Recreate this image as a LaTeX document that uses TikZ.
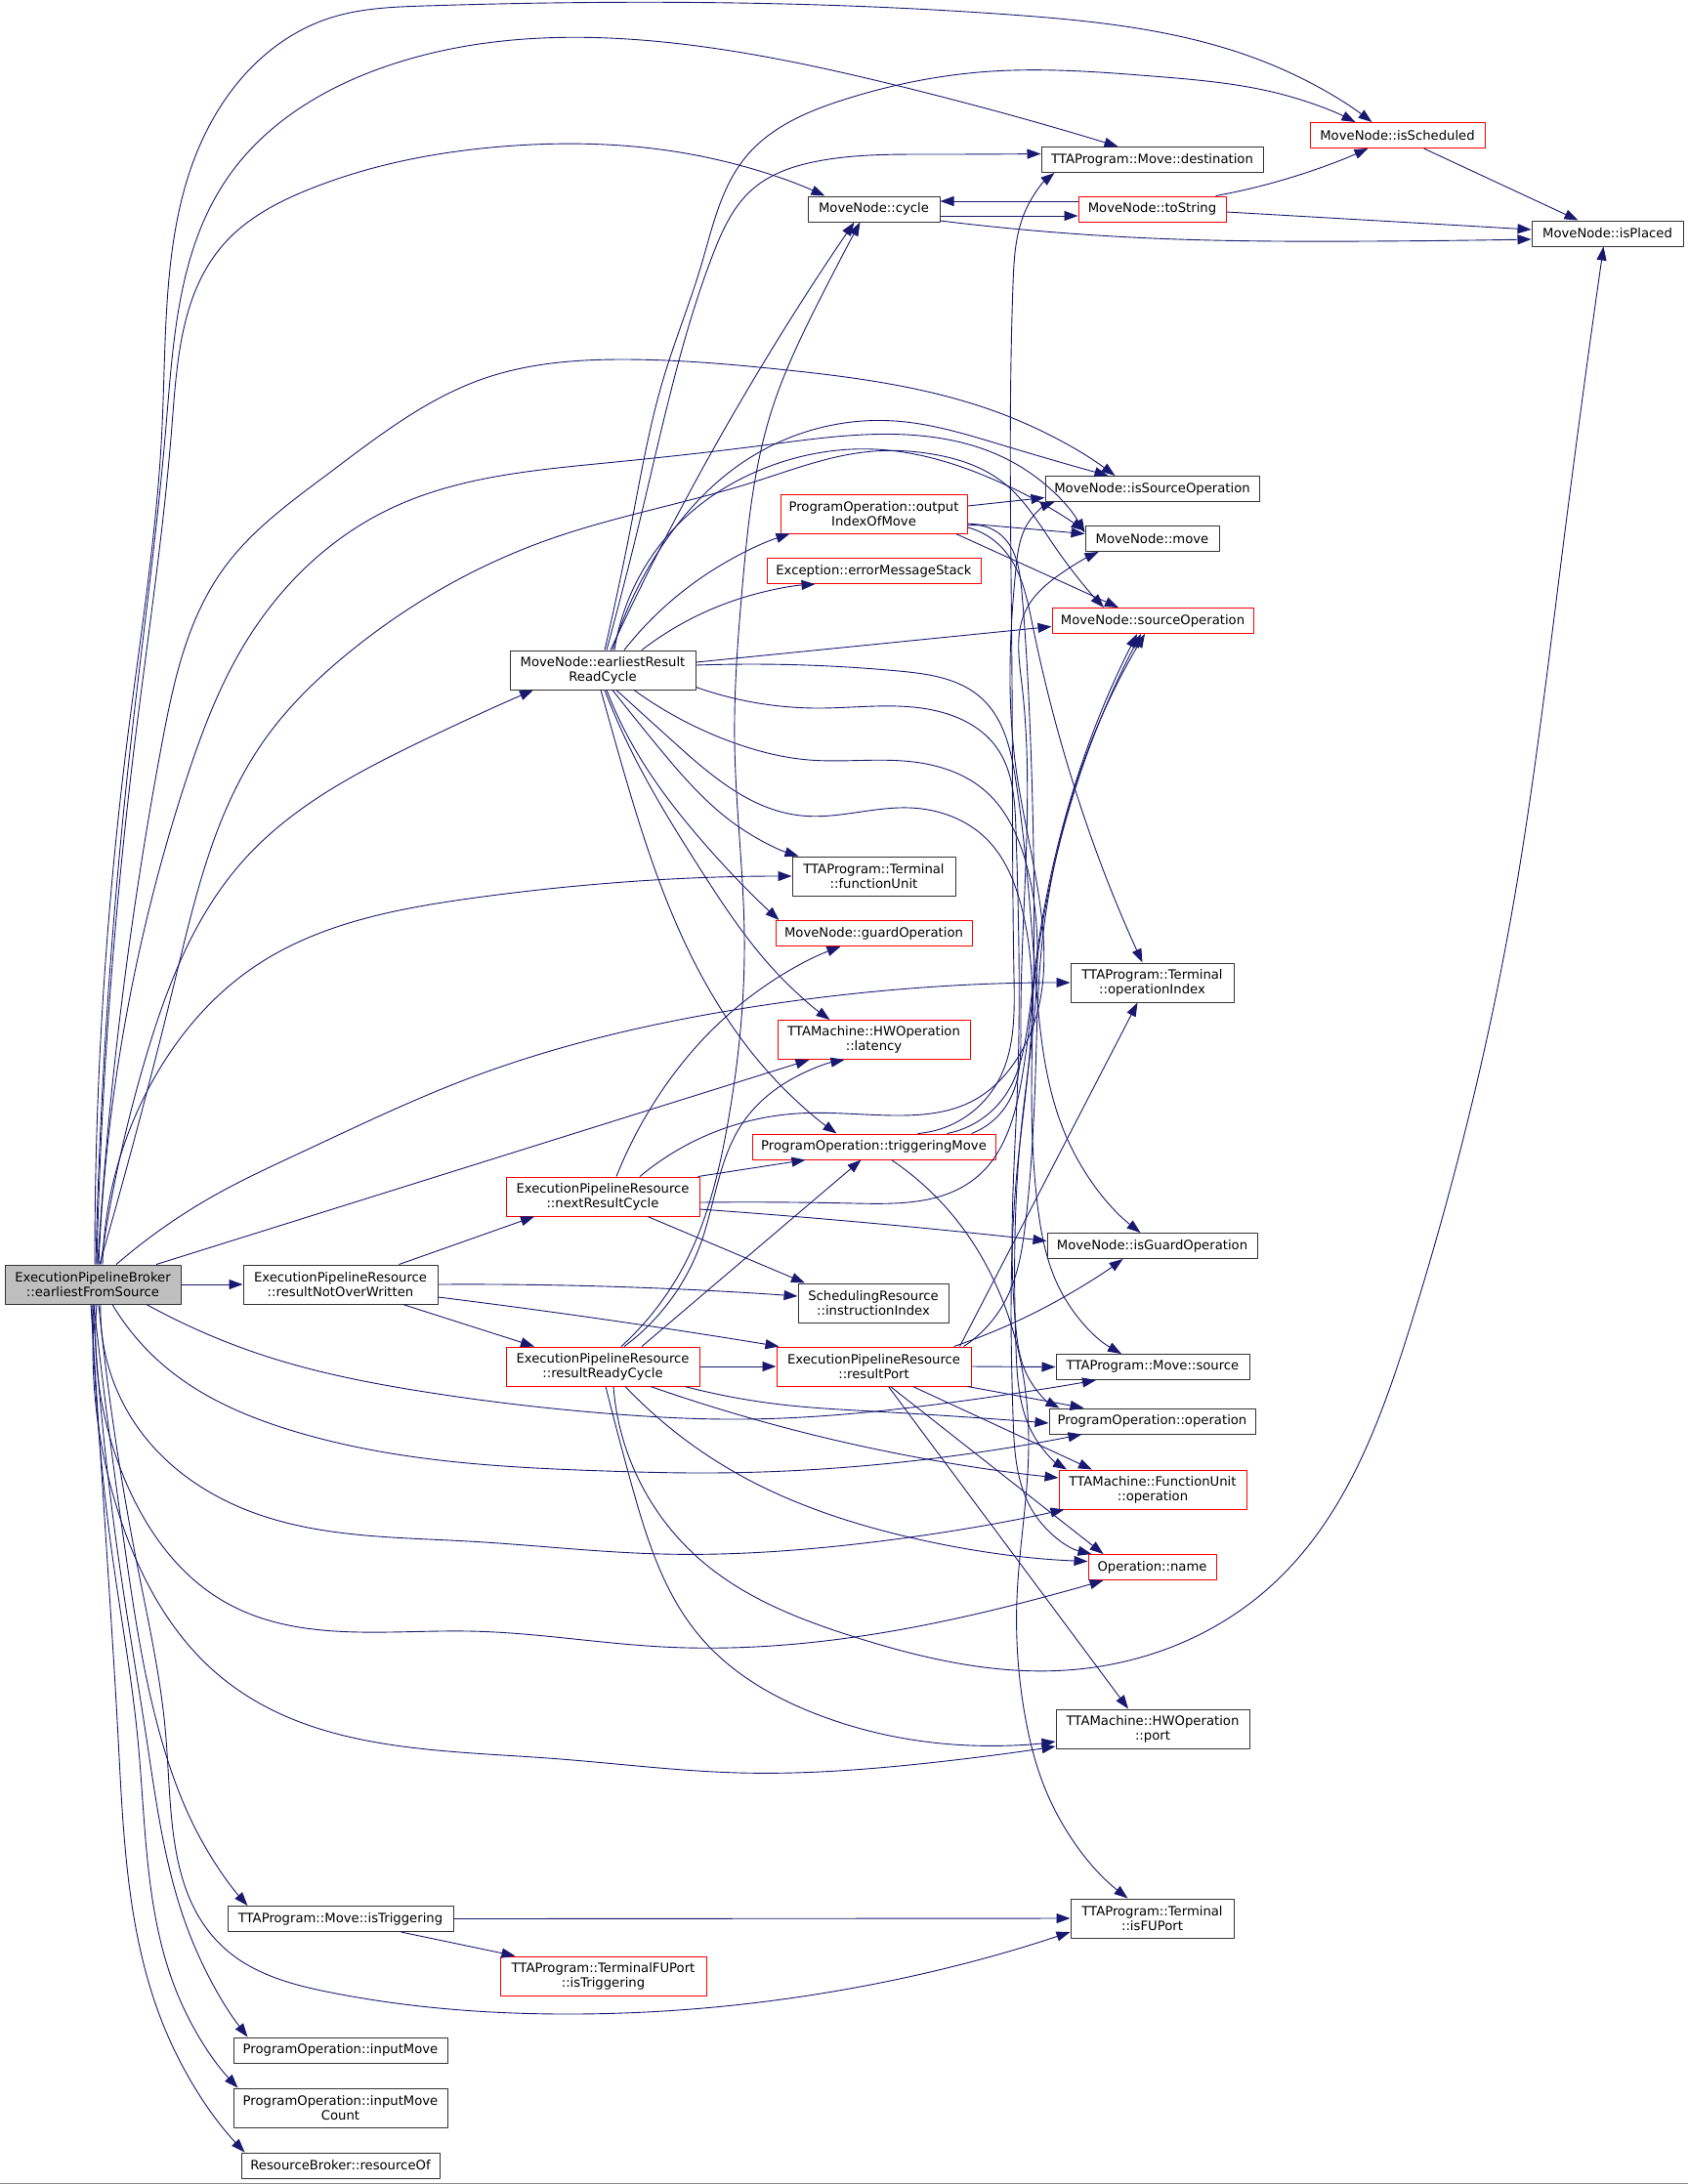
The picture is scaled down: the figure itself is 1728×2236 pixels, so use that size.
\documentclass[tikz,border=0pt]{standalone}
\usepackage{fontspec}
\setmainfont{DejaVu Sans}
\usetikzlibrary{arrows.meta,positioning,hobby}
\definecolor{callblue}{RGB}{25,25,112}
\newcommand\fnfont{\fontsize{13.2pt}{14.8pt}\selectfont}

\begin{document}
\begin{tikzpicture}[
    > = {Triangle[length=14pt,width=10pt]}, % arrow head style
    x = 1pt, y = -1pt, % pixel grid, y runs down
    line join = round
    ]

    \tikzset{
    fn/.style = {draw = black!80, fill = white, line width = 1pt, inner sep = 0pt,
        align = center, font = \fnfont, minimum height = 26pt},
    fnred/.style = {fn, draw = red},
    fnroot/.style = {fn, fill = black!25},
    call/.style = {->, draw = callblue, line width = 0.9pt}
    }
    \useasboundingbox (0,0) rectangle (1728,2236);

    % functions
    \node[fnroot, minimum width=180pt, minimum height=40pt] (E0) at (95,1315) {ExecutionPipelineBroker\\::earliestFromSource};
    \node[fn, minimum width=199pt, minimum height=40pt] (rNOW) at (348.5,1315) {ExecutionPipelineResource\\::resultNotOverWritten};
    \node[fn, minimum width=190pt, minimum height=40pt] (eRRC) at (617,686) {MoveNode::earliestResult\\ReadCycle};
    \node[fnred, minimum width=198pt, minimum height=40pt] (nRC) at (617,1225) {ExecutionPipelineResource\\::nextResultCycle};
    \node[fnred, minimum width=198pt, minimum height=40pt] (rRC) at (617,1399) {ExecutionPipelineResource\\::resultReadyCycle};
    \node[fnred, minimum width=199pt, minimum height=40pt] (rP) at (894.5,1399) {ExecutionPipelineResource\\::resultPort};
    \node[fn, minimum width=231pt] (mIsTrig) at (348.5,1964.5) {TTAProgram::Move::isTriggering};
    \node[fnred, minimum width=211pt, minimum height=40pt] (tfuIsTrig) at (617.5,2023) {TTAProgram::TerminalFUPort\\::isTriggering};
    \node[fn, minimum width=219pt] (inMove) at (348.5,2099) {ProgramOperation::inputMove};
    \node[fn, minimum width=219pt, minimum height=40pt] (inMoveCount) at (348.5,2158) {ProgramOperation::inputMove\\Count};
    \node[fn, minimum width=203pt] (resOf) at (348.5,2217) {ResourceBroker::resourceOf};
    \node[fn, minimum width=135pt] (cycle) at (894.5,214) {MoveNode::cycle};
    \node[fnred, minimum width=151pt] (toString) at (1179.5,214) {MoveNode::toString};
    \node[fn, minimum width=227pt] (destination) at (1179.5,163.5) {TTAProgram::Move::destination};
    \node[fnred, minimum width=179pt] (isSched) at (1430.5,138.5) {MoveNode::isScheduled};
    \node[fn, minimum width=155pt] (isPlaced) at (1645.5,239) {MoveNode::isPlaced};
    \node[fnred, minimum width=191pt, minimum height=40pt] (outIdx) at (894.5,526) {ProgramOperation::output\\IndexOfMove};
    \node[fnred, minimum width=219pt] (errStack) at (894.5,584.5) {Exception::errorMessageStack};
    \node[fn, minimum width=219pt] (isSrcOp) at (1179.5,500.5) {MoveNode::isSourceOperation};
    \node[fn, minimum width=137pt] (move) at (1179.5,551.5) {MoveNode::move};
    \node[fnred, minimum width=206pt] (srcOp) at (1180,635.5) {MoveNode::sourceOperation};
    \node[fn, minimum width=167pt, minimum height=40pt] (fu) at (894.5,897) {TTAProgram::Terminal\\::functionUnit};
    \node[fnred, minimum width=201pt] (guardOp) at (894.5,955.5) {MoveNode::guardOperation};
    \node[fn, minimum width=167pt, minimum height=40pt] (opIdx) at (1179.5,1006) {TTAProgram::Terminal\\::operationIndex};
    \node[fnred, minimum width=197pt, minimum height=40pt] (latency) at (894.5,1064.5) {TTAMachine::HWOperation\\::latency};
    \node[fnred, minimum width=249pt] (trigMove) at (894.5,1174) {ProgramOperation::triggeringMove};
    \node[fn, minimum width=154pt, minimum height=40pt] (instrIdx) at (894,1334) {SchedulingResource\\::instructionIndex};
    \node[fn, minimum width=215pt] (isGuardOp) at (1179.5,1275.5) {MoveNode::isGuardOperation};
    \node[fn, minimum width=198pt] (mSource) at (1180,1399.5) {TTAProgram::Move::source};
    \node[fn, minimum width=211pt] (poOp) at (1179.5,1455) {ProgramOperation::operation};
    \node[fnred, minimum width=192pt, minimum height=40pt] (fuOp) at (1180,1525) {TTAMachine::FunctionUnit\\::operation};
    \node[fnred, minimum width=131pt] (opName) at (1179.5,1604.5) {Operation::name};
    \node[fn, minimum width=198pt, minimum height=40pt] (hwPort) at (1180,1770) {TTAMachine::HWOperation\\::port};
    \node[fn, minimum width=167pt, minimum height=40pt] (isFUPort) at (1179.5,1964) {TTAProgram::Terminal\\::isFUPort};

    % calls of earliestFromSource
    \draw[call] ([xshift=2pt]E0.north) to[curve through={(130,760) .. (166,436) .. (229,104) .. (336,19) .. (435,6) .. (1034,15) .. (1306,68)}] ([xshift=-26pt]isSched.north);
    \draw[call] ([xshift=3pt]E0.north) to[curve through={(134,760) .. (170,436) .. (233,182) .. (395,68) .. (679,43) .. (916,87)}] ([xshift=-35pt]destination.north);
    \draw[call] ([xshift=4pt]E0.north) to[curve through={(138,760) .. (176,436) .. (229,250) .. (316,194) .. (514,150) .. (718,160)}] ([xshift=-50pt]cycle.north);
    \draw[call] ([xshift=5pt]E0.north) to[curve through={(166,760) .. (229,582) .. (336,485) .. (494,388) .. (639,368) .. (797,378) .. (1034,427)}] ([xshift=-38pt]isSrcOp.north);
    \draw[call] ([xshift=6pt]E0.north) to[curve through={(190,800) .. (250,660) .. (395,523) .. (620,474) .. (781,456) .. (928,445) .. (1040,475)}] ([yshift=6pt]move.west);
    \draw[call] ([xshift=7pt]E0.north) to[curve through={(180,1000) .. (269,760) .. (356,669) .. (560,553) .. (770,494) .. (884,463) .. (955,465) .. (1027,494) .. (1080,560)}] ([xshift=-50pt]srcOp.north);
    \draw[call] ([xshift=8pt]E0.north) to[curve through={(150,1080) .. (250,880) .. (429,760)}] ([xshift=-71pt]eRRC.south);
    \draw[call] ([xshift=10pt]E0.north) to[curve through={(160,1100) .. (260,990) .. (480,920)}] (fu.west);
    \draw[call] ([xshift=24pt]E0.north) to[curve through={(221,1223) .. (308,1180) .. (480,1104) .. (757,1033)}] (opIdx.west);
    \draw[call] ([xshift=65pt]E0.north) -- ([xshift=-66pt]latency.south);
    \draw[call] (E0.east) -- (rNOW.west);
    \draw[call] ([xshift=55pt]E0.south) to[curve through={(277,1390) .. (435,1425) .. (620,1447) .. (757,1453) .. (980,1435)}] ([xshift=-58pt]mSource.south);
    \draw[call] ([xshift=20pt]E0.south) to[curve through={(170,1400) .. (300,1465) .. (620,1506) .. (717,1508) .. (980,1490)}] ([xshift=-72pt]poOp.south);
    \draw[call] ([xshift=8pt]E0.south) to[curve through={(140,1460) .. (250,1545) .. (480,1578) .. (678,1591) .. (875,1581)}] ([xshift=6pt]fuOp.south west);
    \draw[call] ([xshift=4pt]E0.south) to[curve through={(130,1520) .. (230,1640) .. (480,1670) .. (678,1686) .. (875,1676) .. (1050,1640)}] ([xshift=-50pt]opName.south);
    \draw[call] ([xshift=2pt]E0.south) to[curve through={(125,1560) .. (230,1720) .. (561,1800) .. (757,1815) .. (950,1805)}] ([yshift=-18pt]hwPort.west);
    \draw[call] ([xshift=6pt]E0.south) to[curve through={(140,1600) .. (170,1780) .. (228,1993) .. (339,2040) .. (582,2062) .. (760,2052)}] ([yshift=-14pt]isFUPort.west);
    \draw[call] ([xshift=1pt]E0.south) to[curve through={(130,1600) .. (165,1780) .. (204,1880)}] ([xshift=-95pt]mIsTrig.north);
    \draw[call] (E0.south) to[curve through={(122,1600) .. (150,1780) .. (194,1980)}] ([xshift=-95pt]inMove.north);
    \draw[call] ([xshift=-1pt]E0.south) to[curve through={(116,1600) .. (141,1780) .. (184,2047)}] ([xshift=-105pt]inMoveCount.north);
    \draw[call] ([xshift=-2pt]E0.south) to[curve through={(110,1600) .. (121,1780) .. (170,2080)}] ([xshift=-98pt]resOf.north);

    % resultNotOverWritten
    \draw[call] ([xshift=60pt]rNOW.north) -- ([xshift=-70pt]nRC.south);
    \draw[call] ([xshift=64pt]rNOW.south) -- ([xshift=-70pt]rRC.north);
    \draw[call] (rNOW.east) to[curve through={(650,1318)}] ([yshift=7pt]instrIdx.west);
    \draw[call] ([yshift=-13pt]rNOW.east) to[curve through={(620,1351)}] ([xshift=3pt]rP.north west);

    % earliestResultReadCycle
    \draw[call] ([xshift=2pt]eRRC.north) to[curve through={(647,533) .. (679,388) .. (718,271) .. (764,160) .. (864,102) .. (1015,73) .. (1180,78) .. (1314,97)}] ([xshift=-43pt]isSched.north);
    \draw[call] ([xshift=4pt]eRRC.north) to[curve through={(655,533) .. (690,388) .. (730,260) .. (770,194) .. (837,165) .. (950,158)}] ([yshift=6pt]destination.west);
    \draw[call] ([xshift=8pt]eRRC.north) to[curve through={(750,425)}] ([xshift=-20pt]cycle.south);
    \draw[call] ([xshift=10pt]eRRC.north) to[curve through={(679,557) .. (758,475) .. (916,431) .. (1027,456)}] ([xshift=-45pt]isSrcOp.north);
    \draw[call] ([xshift=12pt]eRRC.north) to[curve through={(698,533) .. (781,480) .. (896,460) .. (1015,490)}] ([yshift=8pt]move.west);
    \draw[call] ([yshift=8pt]eRRC.east) -- ([yshift=-6pt]srcOp.west);
    \draw[call] ([xshift=22pt]eRRC.north) to[curve through={(720,590)}] ([xshift=10pt]outIdx.south west);
    \draw[call] ([xshift=40pt]eRRC.north) to[curve through={(760,612)}] ([xshift=-60pt]errStack.south);
    \draw[call] ([xshift=10pt]eRRC.south) to[curve through={(670,760) .. (757,847)}] ([xshift=7pt]fu.north west);
    \draw[call] ([xshift=4pt]eRRC.south) to[curve through={(646,760) .. (717,859)}] ([xshift=4pt]guardOp.north west);
    \draw[call] ([xshift=2pt]eRRC.south) to[curve through={(642,760) .. (717,890) .. (796,997)}] ([xshift=-45pt]latency.north);
    \draw[call] ([xshift=-2pt]eRRC.south) to[curve through={(630,760) .. (717,997) .. (796,1108)}] ([xshift=-38pt]trigMove.north);
    \draw[call] ([yshift=5pt]eRRC.east) to[curve through={(920,687) .. (1005,715) .. (1040,800) .. (1060,1000) .. (1093,1167)}] ([xshift=-12pt]isGuardOp.north);
    \draw[call] ([yshift=3pt]eRRC.south east) to[curve through={(837,725) .. (955,727) .. (1020,765) .. (1040,850) .. (1042,1100) .. (1040,1360) .. (1051,1407)}] ([xshift=-95pt]poOp.north);
    \draw[call] ([xshift=32pt]eRRC.south) to[curve through={(750,760) .. (828,778) .. (935,780) .. (1010,811) .. (1049,879) .. (1046,1150) .. (1040,1380) .. (1059,1471)}] ([xshift=-88pt]fuOp.north);
    \draw[call] ([xshift=14pt]eRRC.south) to[curve through={(690,760) .. (820,835) .. (931,827) .. (1010,859) .. (1045,926) .. (1041,1200) .. (1037,1450) .. (1059,1550)}] ([xshift=-62pt]opName.north);

    % outputIndexOfMove
    \draw[call] ([yshift=8pt]outIdx.east) -- ([yshift=-9pt]isSrcOp.west);
    \draw[call] ([yshift=-10pt]outIdx.east) -- ([yshift=5pt]move.west);
    \draw[call] ([xshift=84pt]outIdx.south) -- ([xshift=-35pt]srcOp.north);
    \draw[call] ([yshift=-14pt]outIdx.east) to[curve through={(1025,560) .. (1057,640)}] ([xshift=-10pt]opIdx.north);
    \draw[call] ([yshift=-12pt]outIdx.east) to[curve through={(1025,548) .. (1046,606) .. (1055,760) .. (1058,1000) .. (1062,1233) .. (1085,1320)}] ([xshift=-32pt]mSource.north);

    % cycle, toString, isScheduled
    \draw[call] ([yshift=-7pt]cycle.east) -- ([yshift=-7pt]toString.west);
    \draw[call] ([yshift=8pt]toString.west) -- ([yshift=8pt]cycle.east);
    \draw[call] ([yshift=-12pt]cycle.east) to[curve through={(1180,244) .. (1400,247)}] ([yshift=-6pt]isPlaced.west);
    \draw[call] ([yshift=-3pt]toString.east) -- ([yshift=4pt]isPlaced.west);
    \draw[call] ([xshift=65pt]toString.north) to[curve through={(1314,184)}] ([xshift=-30pt]isSched.south);
    \draw[call] ([xshift=27pt]isSched.south) -- ([xshift=-30pt]isPlaced.north);

    % nextResultCycle
    \draw[call] ([xshift=14pt]nRC.north) to[curve through={(678,1116) .. (757,1029)}] ([xshift=-34pt]guardOp.south);
    \draw[call] ([xshift=-2pt]nRC.north east) -- ([xshift=-70pt]trigMove.south);
    \draw[call] ([xshift=46pt]nRC.south) -- ([xshift=-70pt]instrIdx.north);
    \draw[call] ([yshift=-13pt]nRC.east) to[curve through={(900,1253)}] ([yshift=5pt]isGuardOp.west);
    \draw[call] ([yshift=-6pt]nRC.east) to[curve through={(875,1232) .. (1000,1205) .. (1045,1110) .. (1063,973)}] ([xshift=-12pt]srcOp.south);
    \draw[call] ([xshift=38pt]nRC.north) to[curve through={(816,1140) .. (919,1142) .. (994,1128) .. (1037,1090) .. (1042,800) .. (1040,582) .. (1054,533)}] ([xshift=-100pt]isSrcOp.south);

    % resultReadyCycle
    \draw[call] ([xshift=19pt]rRC.north) to[curve through={(701,1294) .. (745,1150) .. (762,958) .. (752,760) .. (760,600) .. (790,420) .. (840,305)}] ([xshift=-14pt]cycle.south);
    \draw[call] ([xshift=22pt]rRC.north) to[curve through={(717,1274) .. (760,1150) .. (810,1105)}] ([xshift=-30pt]latency.south);
    \draw[call] ([xshift=40pt]rRC.north) -- ([xshift=-13pt]trigMove.south);
    \draw[call] (rRC.east) -- (rP.west);
    \draw[call] ([xshift=84pt]rRC.south) to[curve through={(800,1438) .. (895,1445)}] ([yshift=-2pt]poOp.west);
    \draw[call] ([xshift=49pt]rRC.south) to[curve through={(875,1479)}] ([yshift=12pt]fuOp.west);
    \draw[call] ([xshift=23pt]rRC.south) to[curve through={(757,1510) .. (915,1570)}] ([yshift=6pt]opName.west);
    \draw[call] ([xshift=11pt]rRC.south) to[curve through={(717,1597) .. (875,1676) .. (1091,1710) .. (1304,1621) .. (1443,1360) .. (1547,938) .. (1600,560)}] ([xshift=-4pt]isPlaced.south);
    \draw[call] ([xshift=3pt]rRC.south) to[curve through={(646,1518) .. (717,1676) .. (836,1755) .. (994,1787)}] ([yshift=-13pt]hwPort.west);

    % resultPort
    \draw[call] (rP.east) -- (mSource.west);
    \draw[call] ([xshift=-4pt]rP.south east) -- ([xshift=-70pt]poOp.north);
    \draw[call] ([xshift=40pt]rP.south) -- ([xshift=-62pt]fuOp.north);
    \draw[call] ([xshift=17pt]rP.south) -- ([xshift=-50pt]opName.north);
    \draw[call] ([xshift=15pt]rP.south) -- ([xshift=-25pt]hwPort.north);
    \draw[call] ([xshift=-8pt]rP.north east) to[curve through={(1030,1330) .. (1050,1250) .. (1060,1100) .. (1066,973)}] ([xshift=-8pt]srcOp.south);
    \draw[call] ([xshift=-12pt]rP.north east) -- ([xshift=-15pt]opIdx.south);
    \draw[call] ([xshift=-18pt]rP.north east) to[curve through={(1080,1333)}] ([xshift=-30pt]isGuardOp.south);

    % triggeringMove
    \draw[call] ([xshift=45pt]trigMove.north) to[curve through={(1020,1110) .. (1038,1000) .. (1036,700) .. (1037,291) .. (1050,215)}] ([xshift=-100pt]destination.south);
    \draw[call] ([xshift=100pt]trigMove.north) to[curve through={(1033,1127) .. (1045,1050) .. (1046,700) .. (1050,625) .. (1085,588)}] ([xshift=-55pt]move.south);
    \draw[call] ([xshift=75pt]trigMove.north) to[curve through={(1030,1120) .. (1052,1050) .. (1062,973)}] ([xshift=-16pt]srcOp.south);
    \draw[call] ([xshift=18pt]trigMove.south) to[curve through={(980,1250) .. (1027,1333) .. (1053,1479) .. (1041,1637) .. (1049,1755) .. (1071,1834)}] ([xshift=-25pt]isFUPort.north);

    % Move::isTriggering
    \draw[call] (mIsTrig.east) -- (isFUPort.west);
    \draw[call] ([xshift=62pt]mIsTrig.south) -- ([xshift=-90pt]tfuIsTrig.north);

    \draw[black!45, line width=1pt] (0,2235) -- (1728,2235);
\end{tikzpicture}
\end{document}
